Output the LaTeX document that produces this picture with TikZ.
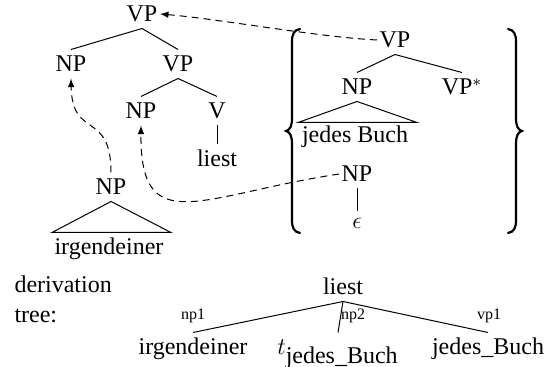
\documentclass[tikz,border=0pt]{standalone}
\usepackage{fontspec}
\setmainfont{Liberation Serif}
\usetikzlibrary{arrows}

\tikzset{
  cat/.style={inner sep=1pt, text height=10pt, text depth=2pt, anchor=base},
  move/.style={-latex, line width=0.5pt, dash pattern=on 3.5pt off 2.5pt},
  lbl/.style={font=\fontsize{8}{9}\selectfont, inner sep=0pt, anchor=base},
  bracket/.style={line width=1.1pt, line cap=round}
}

\begin{document}
\begin{tikzpicture}[x=0.5pt, y=-0.5pt, font=\fontsize{12}{14}\selectfont, line width=0.5pt]
\useasboundingbox (0,0) rectangle (552,367);
% elementary tree of liest
\node[cat] (vp) at (142,22) {VP};
\node[cat] (np) at (71,72) {NP};
\node[cat] (vpb) at (178,72) {VP};
\node[cat] (npo) at (141,119) {NP};
\node[cat] (v) at (217,119) {V};
\node[cat] (liest) at (217,167) {liest};
\draw (vp.south) -- (np.north);
\draw (vp.south) -- (vpb.north);
\draw (vpb.south) -- (npo.north);
\draw (vpb.south) -- (v.north);
\draw (v.south) -- (liest.north);
% irgendeiner
\node[cat] (npirg) at (111,195) {NP};
\node[cat] (irg) at (109,255) {irgendeiner};
\draw (npirg.south) -- ++(-59,31) -- ++(119,0) -- cycle;
% set for jedes Buch
\node[cat] (vpj) at (395,48) {VP};
\node[cat] (npj) at (357,95) {NP};
\node[cat] (vpfoot) at (462,95) {VP$^*$};
\node[cat] (jb) at (355,143) {jedes Buch};
\node[cat] (npt) at (357,182) {NP};
\node[cat, text height=7.5pt] (eps) at (357,229) {$\epsilon$};
\draw (vpj.south) -- (npj.north);
\draw (vpj.south) -- (vpfoot.north);
\draw (npj.south) -- ++(-59,21) -- ++(119,0) -- cycle;
\draw (npt.south) -- (eps.north);
\foreach \bx/\s in {292/1,516/-1}
  \draw[bracket, shift={(\bx,0)}, xscale=\s] (8,29) .. controls (2,30) and (0,34) .. (0,42) -- (0,118)
    .. controls (0,126) and (-2,130) .. (-6,131) .. controls (-2,132) and (0,136) .. (0,144) -- (0,220)
    .. controls (0,228) and (2,232) .. (8,233);
% moves
\draw[move] (vpj.west) .. controls +(-60,-3) and +(60,5) .. (vp.east);
\draw[move] (npt.west) .. controls +(-139,21) and +(-1,115) .. (npo.south);
\draw[move] (npirg.north) .. controls +(0,-63) and +(1,62) .. (np.south);
% derivation tree
\node[cat, anchor=base west] (dlbl) at (12,293) {derivation};
\node[cat, anchor=base west] (tlbl) at (12,323) {tree:};
\node[cat] (dliest) at (343,295) {liest};
\node[cat] (dirg) at (193,355) {irgendeiner};
\node[cat] (dtrace) at (338,355) {$t_{\mbox{jedes\_Buch}}$};
\node[cat] (djb) at (488,355) {jedes\_Buch};
\draw (dliest.south) -- (dirg.north);
\draw (dliest.south) -- (dtrace.north);
\draw (dliest.south) -- (djb.north);
\node[lbl] (np1) at (193,320) {np1};
\node[lbl] (np2) at (353,320) {np2};
\node[lbl] (vp1) at (489,320) {vp1};
\end{tikzpicture}
\end{document}
